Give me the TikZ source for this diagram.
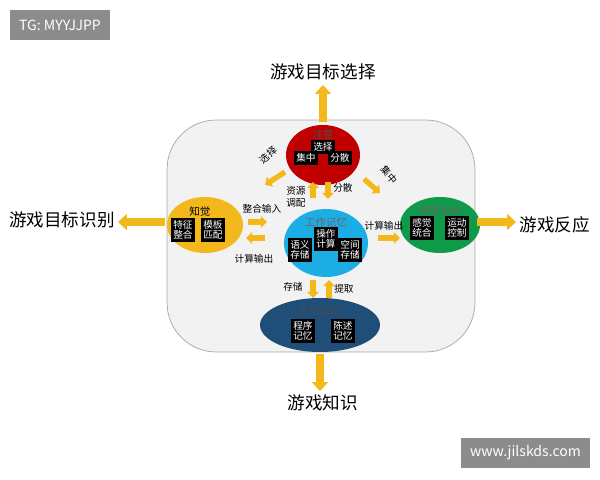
\documentclass[tikz,border=0pt]{standalone}
\usepackage{fontspec}
\setmainfont{Noto Sans CJK SC}
\usetikzlibrary{arrows.meta,positioning}
\definecolor{panel}{HTML}{F2F2F2}
\definecolor{amber}{HTML}{F2B81C}
\definecolor{attred}{HTML}{C00000}
\definecolor{wmblue}{HTML}{1CADE4}
\definecolor{smgreen}{HTML}{0E9A48}
\definecolor{ltblue}{HTML}{1F4E79}
\begin{document}
\begin{tikzpicture}[x=0.02cm,y=-0.02cm]
		\tikzstyle{blk}=[fill=black, text=white, font=\fontsize{5.5}{6}\selectfont, align=center, inner sep=1.5pt]
		\tikzstyle{ttl}=[font=\fontsize{6}{7}\selectfont, inner sep=1pt]
		\tikzstyle{lbl}=[font=\fontsize{5.5}{6.5}\selectfont, align=center, inner sep=1pt]
		\tikzstyle{big}=[font=\fontsize{10}{12}\selectfont]
		\tikzstyle{connect}=[amber, line width=4.5pt, -{Triangle[width=9pt,length=5pt]}]
		\tikzstyle{small}=[amber, line width=3pt, -{Triangle[width=6.5pt,length=3.5pt]}]
		\tikzstyle{tag}=[fill=black!45, text=white, font=\fontsize{8}{9}\selectfont, minimum height=0.6cm, inner xsep=5pt]
		\useasboundingbox (0,0) rectangle (600,480);
		% tags
		\node[tag, anchor=north west] (tg) at (10,10) {TG: MYYJJPP};
		\node[tag, anchor=south east] (www) at (590,468) {www.jilskds.com};
		% panel
		\node[draw=black!35, fill=panel, rounded corners=28pt, minimum width=6.16cm, minimum height=4.64cm] (panel) at (321,236) {};
		% ellipses
		\fill[attred] (323,155) ellipse (37 and 30);
		\fill[amber] (205,225) ellipse (38 and 28);
		\fill[wmblue] (326,243) ellipse (42 and 34);
		\fill[smgreen] (440,225) ellipse (40 and 28);
		\fill[ltblue] (320,325) ellipse (60 and 27);
		\node[ttl, text=black!70] (att) at (323,134) {注意};
		\node[blk] (sel) at (323,147) {选择};
		\node[blk] (foc) at (306,158) {集中};
		\node[blk] (div) at (340,158) {分散};
		\node[ttl] (per) at (200,212) {知觉};
		\node[blk] (feat) at (183,230) {特征\\整合};
		\node[blk] (tmpl) at (213,230) {模板\\匹配};
		\node[ttl, text=black!60] (wm) at (326,222) {工作记忆};
		\node[blk] (op) at (326,239) {操作\\计算};
		\node[blk] (sem) at (300,250) {语义\\存储};
		\node[blk] (spa) at (350,250) {空间\\存储};
		\node[ttl, text=black!60] (sm) at (440,211) {感觉运动};
		\node[blk] (sint) at (422,228) {感觉\\统合};
		\node[blk] (mot) at (457,228) {运动\\控制};
		\node[ttl, text=black!70] (ltm) at (320,310) {长时记忆};
		\node[blk] (proc) at (303,331) {程序\\记忆};
		\node[blk] (decl) at (343,331) {陈述\\记忆};
		% outer arrows
		\coordinate (uA) at (323,122); \coordinate (uB) at (323,85);
		\coordinate (lA) at (165,222); \coordinate (lB) at (118,222);
		\coordinate (rA) at (477,222); \coordinate (rB) at (516,222);
		\coordinate (dA) at (320,354); \coordinate (dB) at (320,391);
		\draw[connect] (uA) -- (uB);
		\draw[connect] (lA) -- (lB);
		\draw[connect] (rA) -- (rB);
		\draw[connect] (dA) -- (dB);
		\node[big] (goalsel) at (323,72) {游戏目标选择};
		\node[big] (goalrec) at (62,220) {游戏目标识别};
		\node[big] (resp) at (555,225) {游戏反应};
		\node[big] (know) at (323,403) {游戏知识};
		% inner arrows
		\coordinate (s1) at (285,172); \coordinate (s2) at (265,185);
		\coordinate (c1) at (364,179); \coordinate (c2) at (380,193);
		\coordinate (a1) at (313,198); \coordinate (a2) at (313,182);
		\coordinate (b1) at (328,182); \coordinate (b2) at (328,199);
		\coordinate (i1) at (248,222); \coordinate (i2) at (267,222);
		\coordinate (o1) at (265,238); \coordinate (o2) at (246,238);
		\coordinate (r1) at (378,238); \coordinate (r2) at (400,238);
		\coordinate (t1) at (313,280); \coordinate (t2) at (313,298);
		\coordinate (e1) at (329,298); \coordinate (e2) at (329,280);
		\draw[small] (s1) -- (s2);
		\draw[small] (c1) -- (c2);
		\draw[small] (a1) -- (a2);
		\draw[small] (b1) -- (b2);
		\draw[small] (i1) -- (i2);
		\draw[small] (o1) -- (o2);
		\draw[small] (r1) -- (r2);
		\draw[small] (t1) -- (t2);
		\draw[small] (e1) -- (e2);
		\node[lbl, rotate=40] (lsel) at (268,155) {选择};
		\node[lbl, rotate=-50] (lfoc) at (389,175) {集中};
		\node[lbl] (lres) at (296,197) {资源\\调配};
		\node[lbl] (ldiv) at (343,188) {分散};
		\node[lbl] (lin) at (262,209) {整合输入};
		\node[lbl] (lout) at (254,259) {计算输出};
		\node[lbl] (lout2) at (384,226) {计算输出};
		\node[lbl] (lsto) at (293,287) {存储};
		\node[lbl] (lret) at (344,289) {提取};
\end{tikzpicture}
\end{document}
